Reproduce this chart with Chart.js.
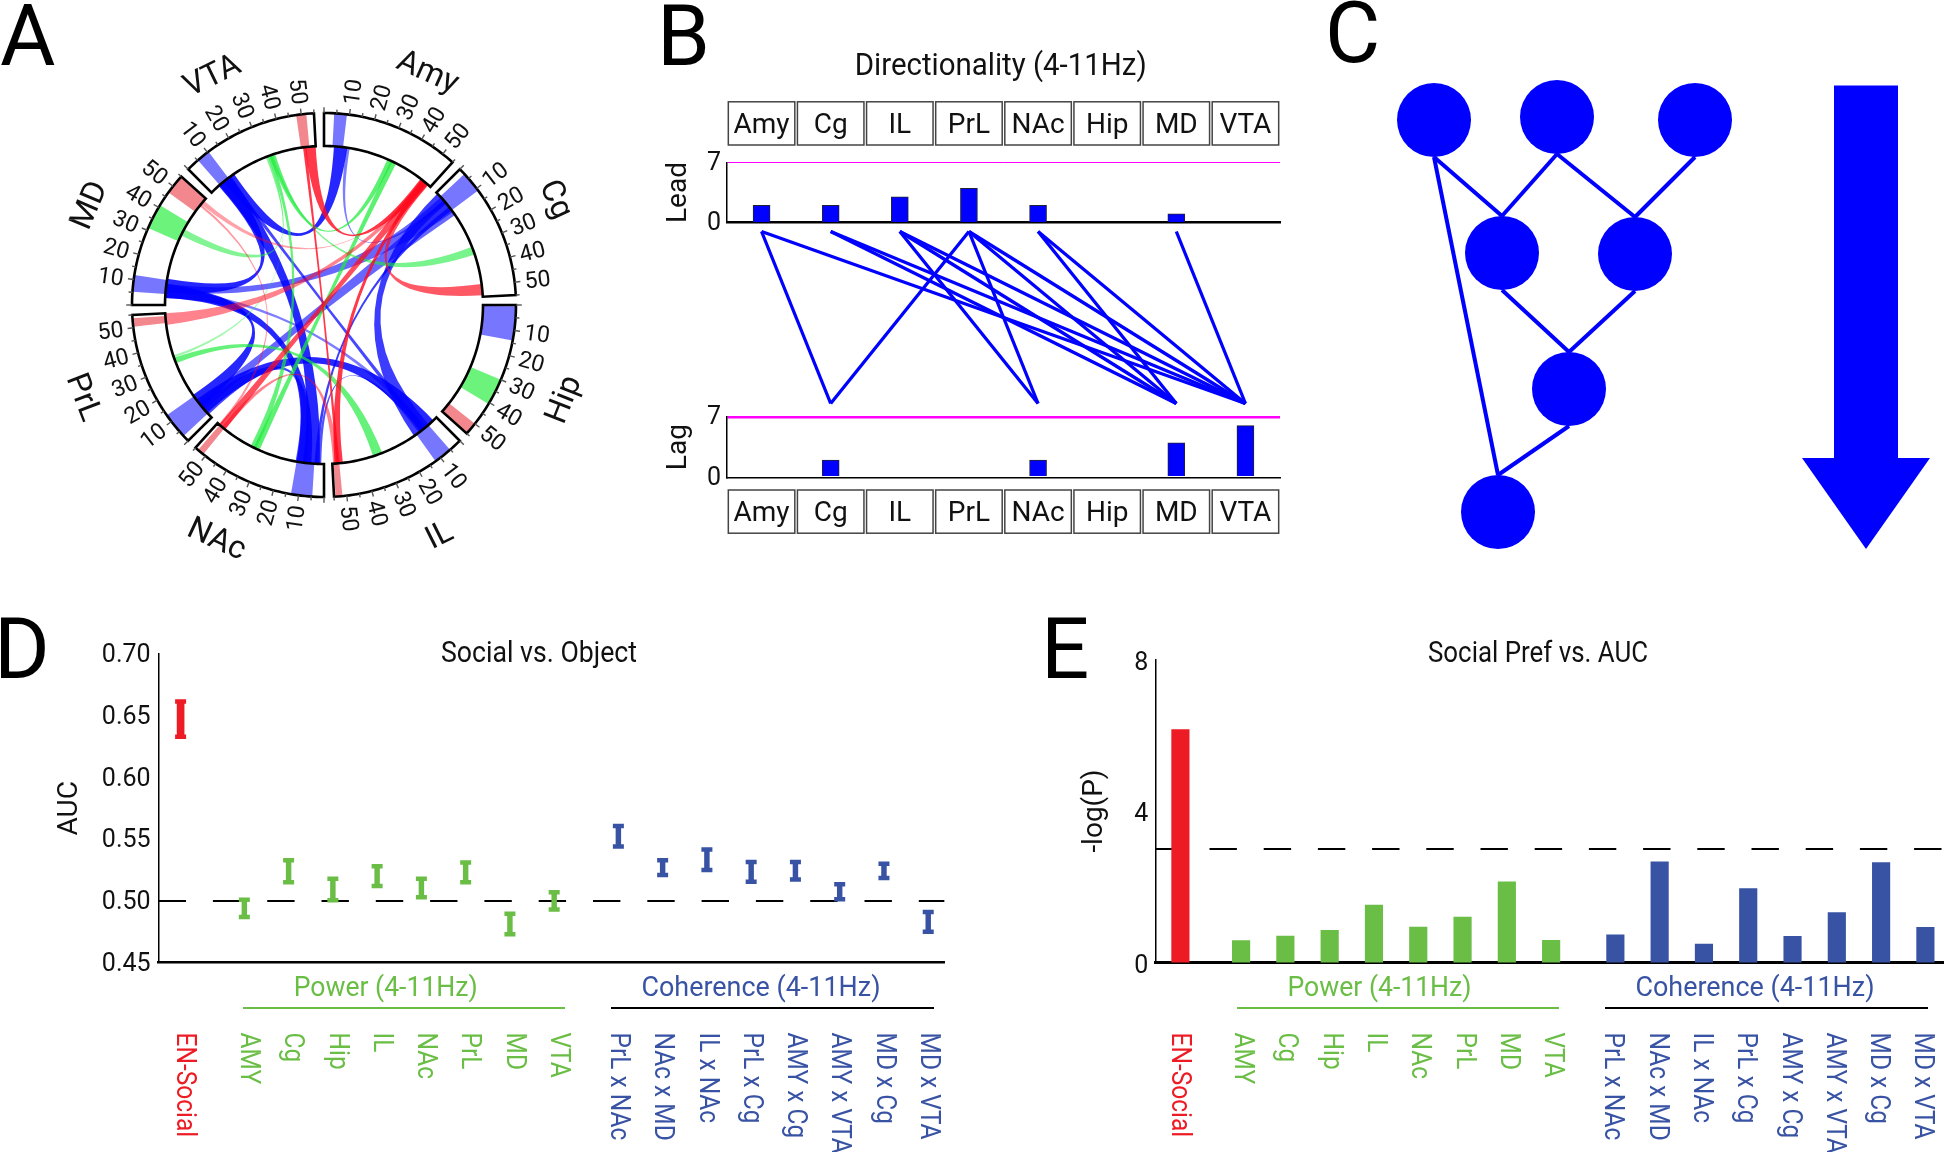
<!DOCTYPE html>
<html>
<head>
<meta charset="utf-8">
<title>Network figure</title>
<script src="https://cdn.jsdelivr.net/npm/chart.js@4/dist/chart.umd.min.js"></script>
<style>
    html, body { margin: 0; padding: 0; background: #fff; }
    canvas { position: absolute; left: 0; top: 0; }
</style>
</head>
<body>
<canvas id="chartA" width="1944" height="1152"></canvas>
<canvas id="chartLead" width="1944" height="1152"></canvas>
<canvas id="chartLinks" width="1944" height="1152"></canvas>
<canvas id="chartLag" width="1944" height="1152"></canvas>
<canvas id="chartC" width="1944" height="1152"></canvas>
<canvas id="chartD" width="1944" height="1152"></canvas>
<canvas id="chartE" width="1944" height="1152"></canvas>
<script>
// ---- panel A: chord rings (units 0-55 around each region)
var chordRegions = ['Amy', 'Cg', 'Hip', 'IL', 'NAc', 'PrL', 'MD', 'VTA'];
var chordTickValues = [10, 20, 30, 40, 50];
// region, from, to, for the bands seen in the outer ring
var ringBlue = [['Amy', 4, 9], ['Cg', 2.6, 11], ['Hip', 0.5, 14], ['IL', 5.2, 12.4], ['NAc', 4.6, 13], ['PrL', 2.6, 13], ['MD', 5.2, 11.8], ['VTA', 5.2, 10.5]];
var ringGreen = [['Hip', 30, 40.6], ['MD', 31, 41]];
var ringRed = [['Hip', 50, 55], ['IL', 51.7, 54.4], ['NAc', 51, 53.7], ['PrL', 50.4, 53.7], ['MD', 47, 55], ['VTA', 48, 52]];
// region a, from, to, region b, from, to, strength
var chordsBlue = [
    ['Amy', 4.7, 11, 'VTA', 7.5, 13.8, 1],
    ['Amy', 10.5, 12.2, 'Cg', 5, 6.5, 0.6],
    ['Cg', 0.7, 7, 'IL', 5, 13.8, 0.9],
    ['Cg', 3, 12, 'MD', 6, 10, 0.7],
    ['Cg', 9, 11, 'NAc', 2.8, 4.5, 0.9],
    ['Cg', 5, 13.8, 'PrL', 5, 9.5, 0.7],
    ['IL', 7.5, 10, 'VTA', 9.5, 11.5, 0.85],
    ['IL', 2, 10, 'PrL', 3, 11, 1],
    ['IL', 6.5, 9, 'MD', 6, 8, 0.6],
    ['IL', 9.5, 11, 'NAc', 1.3, 2.8, 0.8],
    ['VTA', 5, 12, 'NAc', 2, 10, 1],
    ['VTA', 4.6, 11, 'MD', 6, 12.4, 1],
    ['MD', 3.3, 10, 'NAc', 6, 13, 1],
    ['PrL', 7, 13.8, 'MD', 3.3, 9, 1],
    ['PrL', 2, 8, 'NAc', 8, 13.5, 0.85]
];
var chordsGreen = [
    ['Amy', 30.8, 33.5, 'VTA', 32.5, 35.4, 0.85],
    ['Amy', 32.5, 35.4, 'NAc', 31.4, 34.5, 0.85],
    ['VTA', 31.8, 33.6, 'NAc', 33, 36, 0.8],
    ['IL', 30.8, 35.4, 'PrL', 30.8, 33.5, 0.8],
    ['MD', 34, 37.3, 'VTA', 30.8, 31.8, 0.65],
    ['Cg', 30.8, 34.7, 'VTA', 33.2, 34.2, 0.7],
    ['PrL', 33.5, 34.7, 'VTA', 31.8, 32.2, 0.5]
];
var chordsRed = [
    ['Amy', 49, 52.5, 'VTA', 50, 55, 0.95],
    ['Amy', 49.5, 53.5, 'NAc', 50.4, 54, 0.85],
    ['Amy', 50, 53.7, 'Cg', 49, 54.3, 0.8],
    ['Amy', 50, 52.5, 'PrL', 49.5, 55, 0.6],
    ['Amy', 50.5, 52.7, 'IL', 50, 54, 0.95],
    ['Amy', 50, 50.4, 'MD', 51.5, 53.7, 0.45],
    ['VTA', 49, 50.5, 'IL', 51.5, 53, 0.95],
    ['MD', 50.4, 51.5, 'NAc', 53, 54.3, 0.5],
    ['NAc', 50.4, 52.5, 'IL', 52, 54.6, 0.6]
];

// ---- panel B: directionality
var directionRegions = ['Amy', 'Cg', 'IL', 'PrL', 'NAc', 'Hip', 'MD', 'VTA'];
var leadCounts = [2, 2, 3, 4, 2, 0, 1, 0];
var lagCounts = [0, 2, 0, 0, 2, 0, 4, 6];
var linkFrom = ['Amy', 'Amy', 'Cg', 'Cg', 'IL', 'IL', 'IL', 'PrL', 'PrL', 'PrL', 'PrL', 'NAc', 'NAc', 'MD'];
var linkTo = ['Cg', 'VTA', 'MD', 'VTA', 'NAc', 'MD', 'VTA', 'Cg', 'NAc', 'MD', 'VTA', 'MD', 'VTA', 'VTA'];

// ---- panel C: layered network
var nodeX = [44, 167, 305, 112, 245, 179, 108];
var nodeY = [60, 57, 60, 193, 194, 329, 452];
var edgeFrom = [0, 0, 1, 1, 2, 3, 4, 5];
var edgeTo = [3, 6, 3, 4, 4, 5, 5, 6];

// ---- panels D and E
var featureNames = ['EN-Social', 'AMY', 'Cg', 'Hip', 'IL', 'NAc', 'PrL', 'MD', 'VTA',
    'PrL x NAc', 'NAc x MD', 'IL x NAc', 'PrL x Cg', 'AMY x Cg', 'AMY x VTA', 'MD x Cg', 'MD x VTA'];
var aucLow = [0.633, 0.487, 0.515, 0.5005, 0.512, 0.503, 0.515, 0.473, 0.493, 0.544, 0.521, 0.525, 0.5155, 0.5174, 0.5014, 0.5185, 0.475];
var aucHigh = [0.6615, 0.501, 0.533, 0.518, 0.528, 0.518, 0.531, 0.4896, 0.507, 0.5607, 0.533, 0.5416, 0.5315, 0.5315, 0.5135, 0.53, 0.491];
var aucTicks = [0.45, 0.5, 0.55, 0.6, 0.65, 0.7];
var aucChance = 0.5;
var logP = [6.15, 0.58, 0.7, 0.85, 1.52, 0.94, 1.2, 2.13, 0.59, 0.73, 2.66, 0.49, 1.95, 0.69, 1.32, 2.64, 0.93];
var logPThreshold = 3;

var PAGE_W = 1944, PAGE_H = 1152;
var FONT = 'Roboto, sans-serif';
var RED = '#ED1C24', GREEN = '#6ABD45', NAVY = '#3953A4', BLUE = '#0000FF', MAGENTA = '#FF00FF', INK = '#111';

Chart.defaults.font.family = FONT;
Chart.defaults.animation = false;
Chart.defaults.responsive = false;
Chart.defaults.events = [];
Chart.defaults.plugins.legend.display = false;
Chart.defaults.plugins.tooltip.enabled = false;

// every canvas covers the page, so the padding puts the plot where it belongs
function place(x0, y0, x1, y1, axisW) {
    return {
        autoPadding: false,
        padding: { left: x0 - (axisW || 0), top: y0, right: PAGE_W - x1, bottom: PAGE_H - y1 }
    };
}

function putText(ctx, str, x, y, o) {
    var size = o.size || 24;
    // Roboto sits a little high on the middle baseline
    var drop = o.base ? 0 : size * 0.08;
    ctx.save();
    ctx.font = size + 'px ' + FONT;
    ctx.fillStyle = o.color || INK;
    ctx.textAlign = o.align || 'center';
    ctx.textBaseline = o.base || 'middle';
    ctx.translate(x, y);
    ctx.rotate((o.rot || 0) * Math.PI / 180);
    if (o.squeeze) ctx.scale(o.squeeze, 1);
    if (o.maxW) ctx.fillText(str, 0, drop, o.maxW); else ctx.fillText(str, 0, drop);
    ctx.restore();
}

function drawAfter(id, fn) {
    return { id: id, afterDraw: function(chart) { fn(chart, chart.ctx); } };
}

function hiddenAxis(min, max, reverse) {
    return { type: 'linear', display: false, min: min, max: max, reverse: !!reverse, offset: false };
}

function baseAxis(width) {
    return {
        ticks: { display: false },
        grid: { display: false, drawTicks: false },
        border: { color: '#000', width: width },
        afterFit: function(s) { s.height = 0; }
    };
}

function leftAxis(axisW, min, max, step, title, titleSize, tickSize, pad, labelOffset) {
    return {
        min: min, max: max,
        ticks: { stepSize: step, color: INK, font: { size: tickSize }, padding: pad, labelOffset: labelOffset || 0 },
        grid: { display: false, drawTicks: false },
        border: { color: '#000', width: 1.5 },
        title: { display: true, text: title, color: INK, font: { size: titleSize }, padding: { top: 4, bottom: 4 } },
        afterFit: function(s) { s.width = axisW; }
    };
}

// ---- panel A
var RING_IN = 159 / 192;
var UNIT_DEG = 42 / 55;
var regionLabelAngles = [24, 65.5, 111.5, 153.4, 204.6, 249, 293, 334];

function chordAngle(region, u) {
    return (chordRegions.indexOf(region) * 45 + u * UNIT_DEG) * Math.PI / 180;
}

function polar(chart, r, a) {
    return [chart.scales.x.getPixelForValue(r * Math.sin(a)), chart.scales.y.getPixelForValue(r * Math.cos(a))];
}

function arcPath(chart, ctx, r, a0, a1, moveFirst) {
    var steps = Math.max(2, Math.ceil(Math.abs(a1 - a0) / 0.02));
    for (var i = 0; i <= steps; i++) {
        var p = polar(chart, r, a0 + (a1 - a0) * i / steps);
        if (i === 0 && moveFirst) ctx.moveTo(p[0], p[1]); else ctx.lineTo(p[0], p[1]);
    }
}

function drawRibbon(chart, ctx, c, rgb) {
    var cx = chart.scales.x.getPixelForValue(0), cy = chart.scales.y.getPixelForValue(0);
    var a0 = chordAngle(c[0], c[1]), a1 = chordAngle(c[0], c[2]);
    var b0 = chordAngle(c[3], c[4]), b1 = chordAngle(c[3], c[5]);
    ctx.beginPath();
    arcPath(chart, ctx, RING_IN, a0, a1, true);
    var pb = polar(chart, RING_IN, b0);
    ctx.quadraticCurveTo(cx, cy, pb[0], pb[1]);
    arcPath(chart, ctx, RING_IN, b0, b1, false);
    var pa = polar(chart, RING_IN, a0);
    ctx.quadraticCurveTo(cx, cy, pa[0], pa[1]);
    ctx.closePath();
    ctx.fillStyle = 'rgba(' + rgb + ',' + (c[6] * 0.85) + ')';
    ctx.fill();
}

function drawRingBand(chart, ctx, b, color) {
    var a0 = chordAngle(b[0], b[1]), a1 = chordAngle(b[0], b[2]);
    ctx.beginPath();
    arcPath(chart, ctx, 1, a0, a1, true);
    arcPath(chart, ctx, RING_IN, a1, a0, false);
    ctx.closePath();
    ctx.fillStyle = color;
    ctx.fill();
}

var chordPlugin = drawAfter('chords', function(chart, ctx) {
    ringBlue.forEach(function(b) { drawRingBand(chart, ctx, b, 'rgba(60,60,255,0.7)'); });
    ringGreen.forEach(function(b) { drawRingBand(chart, ctx, b, 'rgba(70,240,90,0.8)'); });
    ringRed.forEach(function(b) { drawRingBand(chart, ctx, b, 'rgba(235,70,80,0.65)'); });

    chordsBlue.forEach(function(c) { drawRibbon(chart, ctx, c, '0,0,255'); });
    chordsGreen.forEach(function(c) { drawRibbon(chart, ctx, c, '30,235,60'); });
    chordsRed.forEach(function(c) { drawRibbon(chart, ctx, c, '255,10,30'); });

    chordRegions.forEach(function(name, k) {
        var a0 = chordAngle(name, 0), a1 = chordAngle(name, 55);
        ctx.beginPath();
        arcPath(chart, ctx, 1, a0, a1, true);
        arcPath(chart, ctx, RING_IN, a1, a0, false);
        ctx.closePath();
        ctx.strokeStyle = '#000';
        ctx.lineWidth = 2.6;
        ctx.stroke();

        // small ticks on the outside
        for (var u = 0; u <= 55; u += 5) {
            var p0 = polar(chart, 1, chordAngle(name, u)), p1 = polar(chart, u % 10 === 0 ? 1.03 : 1.02, chordAngle(name, u));
            ctx.beginPath();
            ctx.moveTo(p0[0], p0[1]);
            ctx.lineTo(p1[0], p1[1]);
            ctx.strokeStyle = '#555';
            ctx.lineWidth = 1.4;
            ctx.stroke();
        }

        chordTickValues.forEach(function(v) {
            var a = chordAngle(name, v), deg = a * 180 / Math.PI;
            var p = polar(chart, 1.12, a);
            putText(ctx, String(v), p[0], p[1], { size: 23, rot: deg < 180 ? deg - 90 : deg + 90 });
        });

        var mid = regionLabelAngles[k];
        var q = polar(chart, 1.335, mid * Math.PI / 180);
        putText(ctx, name, q[0], q[1], { size: 32, rot: (mid > 90 && mid < 270) ? mid - 180 : mid });
    });

    putText(ctx, 'A', 0, 65, { size: 85, align: 'left', base: 'alphabetic', color: '#000' });
});

new Chart(document.getElementById('chartA'), {
    type: 'scatter',
    data: { datasets: [] },
    options: {
        layout: place(132, 113, 516, 497),
        scales: { x: hiddenAxis(-1, 1), y: hiddenAxis(-1, 1) }
    },
    plugins: [chordPlugin]
});

// ---- panel B
var BOX_W = 66.5, BOX_H = 43.2;

function regionBoxes(chart, ctx, top) {
    directionRegions.forEach(function(name, i) {
        var cx = chart.scales.x.getPixelForValue(i);
        ctx.strokeStyle = '#444';
        ctx.lineWidth = 1.5;
        ctx.strokeRect(cx - BOX_W / 2, top, BOX_W, BOX_H);
        putText(ctx, name, cx, top + BOX_H / 2, { size: 28 });
    });
}

function directionChart(id, counts, y0, y1, title, lineW, baseW, plugin) {
    var yAxis = leftAxis(69, 0, 7, 7, title, 28, 25, 6, 1);
    yAxis.grid = {
        display: true,
        drawTicks: false,
        color: function(ctx) { return ctx.tick && ctx.tick.value === 7 ? MAGENTA : 'rgba(0,0,0,0)'; },
        lineWidth: lineW
    };
    var xAxis = baseAxis(baseW);
    xAxis.type = 'category';
    xAxis.offset = true;
    new Chart(document.getElementById(id), {
        type: 'bar',
        data: {
            labels: directionRegions,
            datasets: [{ data: counts, backgroundColor: BLUE, borderColor: '#223', borderWidth: 1, barThickness: 17 }]
        },
        options: { layout: place(727, y0, 1280, y1, 69), scales: { x: xAxis, y: yAxis } },
        plugins: [plugin]
    });
}

directionChart('chartLead', leadCounts, 162.5, 222.5, 'Lead', 1, 2.5, drawAfter('leadBoxes', function(chart, ctx) {
    regionBoxes(chart, ctx, 101.8);
    putText(ctx, 'Directionality (4-11Hz)', 1000.7, 64.7, { size: 31, maxW: 292 });
    putText(ctx, 'B', 657, 65, { size: 85, align: 'left', base: 'alphabetic', color: '#000' });
}));

directionChart('chartLag', lagCounts, 417, 477.3, 'Lag', 2.5, 1.5, drawAfter('lagBoxes', function(chart, ctx) {
    regionBoxes(chart, ctx, 490);
}));

new Chart(document.getElementById('chartLinks'), {
    type: 'line',
    data: {
        datasets: linkFrom.map(function(name, i) {
            return {
                data: [{ x: directionRegions.indexOf(name), y: 0 }, { x: directionRegions.indexOf(linkTo[i]), y: 1 }],
                borderColor: BLUE, borderWidth: 3.3, pointRadius: 0, clip: false
            };
        })
    },
    options: {
        layout: place(727, 231.5, 1280, 403.5),
        scales: { x: hiddenAxis(-0.5, 7.5), y: hiddenAxis(0, 1, true) }
    }
});

// ---- panel C
var NODE_R = 37;
var networkSets = edgeFrom.map(function(a, i) {
    var b = edgeTo[i];
    return {
        type: 'line',
        data: [{ x: nodeX[a], y: nodeY[a] + NODE_R }, { x: nodeX[b], y: nodeY[b] - NODE_R }],
        borderColor: BLUE, borderWidth: 4, pointRadius: 0
    };
});
networkSets.push({
    type: 'scatter',
    data: nodeX.map(function(x, i) { return { x: x, y: nodeY[i] }; }),
    backgroundColor: BLUE, borderColor: BLUE, pointRadius: NODE_R, borderWidth: 0
});
// the big arrow on the right: shaft and head, both filled up to the shoulder
networkSets.push({
    type: 'line',
    data: [{ x: 444, y: 25.4 }, { x: 508, y: 25.4 }],
    backgroundColor: BLUE, borderWidth: 0, pointRadius: 0, fill: { value: 398 }
});
networkSets.push({
    type: 'line',
    data: [{ x: 412, y: 398 }, { x: 476, y: 489 }, { x: 540, y: 398 }],
    backgroundColor: BLUE, borderWidth: 0, pointRadius: 0, fill: { value: 398 }
});

new Chart(document.getElementById('chartC'), {
    type: 'scatter',
    data: { datasets: networkSets },
    options: {
        layout: place(1390, 60, 1940, 560),
        scales: { x: hiddenAxis(0, 550), y: hiddenAxis(0, 500, true) }
    },
    plugins: [drawAfter('letterC', function(chart, ctx) {
        putText(ctx, 'C', 1325, 62, { size: 85, align: 'left', base: 'alphabetic', color: '#000' });
    })]
});

// ---- panels D and E share the label layout below the axis
function featureColor(i) {
    return i === 0 ? RED : (i < 9 ? GREEN : NAVY);
}

function featureSlots(gapA, gapB) {
    return featureNames.map(function(name, i) {
        if (i === 0) return 0;
        return i < 9 ? i - 1 + gapA : i - 9 + gapB;
    });
}

function featureLabels(slots, o) {
    return drawAfter('featureLabels', function(chart, ctx) {
        featureNames.forEach(function(name, i) {
            var shift = i === 0 ? o.shiftRed : (i < 9 ? o.shiftGreen : o.shiftNavy);
            var x = chart.scales.x.getPixelForValue(slots[i]) + shift;
            putText(ctx, name, x, 1032.5, { size: o.labelSize, squeeze: 24.5 / o.labelSize, rot: 90, align: 'left', color: featureColor(i) });
        });
        putText(ctx, o.title, o.titleX, 652, { size: 29, maxW: o.titleW });
        putText(ctx, 'Power (4-11Hz)', o.powerX, 987.5, { size: 27, color: GREEN, maxW: 184 });
        putText(ctx, 'Coherence (4-11Hz)', o.cohX, 987.5, { size: 27, color: NAVY, maxW: 239 });
        ctx.lineWidth = 2.2;
        ctx.strokeStyle = GREEN;
        ctx.beginPath(); ctx.moveTo(o.powerRule[0], 1008); ctx.lineTo(o.powerRule[1], 1008); ctx.stroke();
        ctx.strokeStyle = '#000';
        ctx.beginPath(); ctx.moveTo(o.cohRule[0], 1008); ctx.lineTo(o.cohRule[1], 1008); ctx.stroke();
        putText(ctx, o.letter, o.letterX, 678, { size: 85, align: 'left', base: 'alphabetic', color: '#000' });
    });
}

function dashedRule(xMin, xMax, y, dash) {
    return {
        type: 'line', order: 5,
        data: [{ x: xMin, y: y }, { x: xMax, y: y }],
        borderColor: '#000', borderWidth: 2, borderDash: dash, pointRadius: 0
    };
}

var slotsD = featureSlots(1.44, 9.89);
var xMinD = -0.497, xMaxD = 17.26;

function aucBars(from, to, thick) {
    var data = [], colors = [];
    for (var i = from; i < to; i++) {
        data.push({ x: slotsD[i], y: [aucLow[i], aucHigh[i]] });
        colors.push(featureColor(i));
    }
    return { type: 'bar', order: 2, data: data, backgroundColor: colors, barThickness: thick, grouped: false };
}

function aucCaps(values) {
    return {
        type: 'scatter', order: 1,
        data: values.map(function(v, i) { return { x: slotsD[i], y: v }; }),
        pointStyle: 'line', pointRadius: 5.5, pointBorderWidth: 4.5,
        pointBorderColor: values.map(function(v, i) { return featureColor(i); })
    };
}

var axisD = leftAxis(109, aucTicks[0], aucTicks[aucTicks.length - 1], 0.05, 'AUC', 28, 25, 8, 2);
axisD.ticks.callback = function(v) { return v.toFixed(2); };
var xAxisD = baseAxis(2.4);
xAxisD.type = 'linear';
xAxisD.min = xMinD;
xAxisD.max = xMaxD;
xAxisD.offset = false;

new Chart(document.getElementById('chartD'), {
    type: 'bar',
    data: {
        datasets: [
            dashedRule(xMinD, xMaxD, aucChance, [27.4, 26.9]),
            aucBars(0, 1, 7),
            aucBars(1, featureNames.length, 4.8),
            aucCaps(aucLow),
            aucCaps(aucHigh)
        ]
    },
    options: { layout: place(158.6, 654, 944.6, 962.6, 109), scales: { x: xAxisD, y: axisD } },
    plugins: [featureLabels(slotsD, {
        shiftRed: 6, shiftGreen: 6, shiftNavy: 2, labelSize: 28,
        title: 'Social vs. Object', titleX: 539, titleW: 196,
        powerX: 385.7, cohX: 761, powerRule: [243, 565], cohRule: [611, 934],
        letter: 'D', letterX: -6
    })]
});

var slotsE = featureSlots(1.37, 9.82);
var xMinE = -0.567, xMaxE = 17.24;
var axisE = leftAxis(81, 0, 8, 4, '-log(P)', 28, 25, 7, 4);
var xAxisE = baseAxis(3);
xAxisE.type = 'linear';
xAxisE.min = xMinE;
xAxisE.max = xMaxE;
xAxisE.offset = false;

new Chart(document.getElementById('chartE'), {
    type: 'bar',
    data: {
        datasets: [
            dashedRule(xMinE, xMaxE, logPThreshold, [27.4, 26.8]),
            {
                type: 'bar', order: 1,
                data: logP.map(function(v, i) { return { x: slotsE[i], y: v }; }),
                backgroundColor: logP.map(function(v, i) { return featureColor(i); }),
                barThickness: 17.5
            }
        ]
    },
    options: { layout: place(1155.3, 659.4, 1944, 962.6, 81), scales: { x: xAxisE, y: axisE } },
    plugins: [featureLabels(slotsE, {
        shiftRed: 0, shiftGreen: 3, shiftNavy: -1, labelSize: 27,
        title: 'Social Pref vs. AUC', titleX: 1538, titleW: 220,
        powerX: 1379.5, cohX: 1755, powerRule: [1237, 1559], cohRule: [1605, 1928],
        letter: 'E', letterX: 1041
    })]
});
</script>
</body>
</html>
